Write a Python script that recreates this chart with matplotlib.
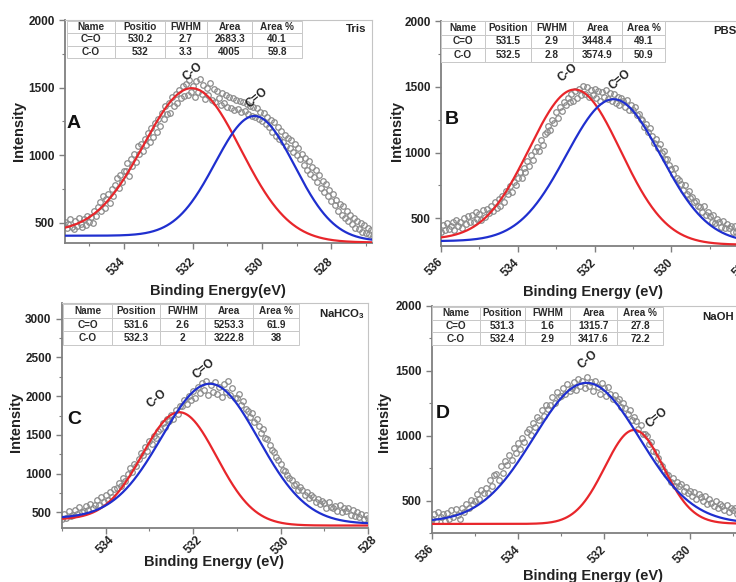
import math
import numpy as np
import matplotlib
matplotlib.use("Agg")
import matplotlib.pyplot as plt
from matplotlib.ticker import MultipleLocator

plt.rcParams['font.family'] = ['Liberation Sans', 'DejaVu Sans']
plt.rcParams['font.weight'] = 'bold'
plt.rcParams['mathtext.fontset'] = 'custom'
plt.rcParams['mathtext.rm'] = 'Liberation Sans:bold'
plt.rcParams['mathtext.bf'] = 'Liberation Sans:bold'

W, H = 736, 582
STEP = 0.05  # eV between recorded points

# ---------------- O 1s spectra (counts from the high-BE end) ----------------
a_start = 535.70
a_counts = [
    505, 462, 488, 530, 470, 452, 515, 478, 535, 490,
    468, 530, 485, 550, 505, 545, 495, 585, 550, 615,
    650, 585, 695, 610, 672, 712, 645, 748, 695, 780,
    830, 755, 850, 805, 880, 885, 940, 845, 970, 920,
    1010, 950, 1070, 1005, 1085, 1030, 1120, 1075, 1165, 1100,
    1200, 1135, 1240, 1170, 1270, 1215, 1310, 1265, 1360, 1305,
    1385, 1315, 1430, 1360, 1450, 1385, 1480, 1425, 1515, 1440,
    1530, 1445, 1555, 1470, 1510, 1430, 1545, 1465, 1560, 1450,
    1520, 1415, 1500, 1445, 1535, 1405, 1490, 1390, 1475, 1420,
    1370, 1460, 1385, 1445, 1355, 1430, 1350, 1420, 1335, 1410,
    1340, 1400, 1320, 1390, 1330, 1380, 1305, 1365, 1290, 1355,
    1280, 1350, 1265, 1320, 1250, 1310, 1230, 1285, 1205, 1260,
    1170, 1245, 1140, 1205, 1120, 1180, 1100, 1150, 1065, 1130,
    1050, 1110, 1020, 1080, 1000, 1050, 975, 1010, 930, 980,
    890, 960, 860, 915, 835, 890, 805, 850, 760, 810,
    730, 790, 695, 745, 660, 710, 630, 670, 590, 640,
    560, 625, 535, 590, 510, 555, 490, 535, 460, 515,
    455, 500, 435, 480, 425, 460, 415, 445, 405,
]

b_start = 536.00
b_counts = [
    400, 450, 410, 465, 420, 445, 475, 415, 490, 445,
    475, 430, 500, 455, 515, 475, 525, 470, 545, 495,
    535, 490, 560, 510, 575, 540, 595, 555, 625, 580,
    645, 595, 670, 625, 705, 685, 745, 700, 780, 755,
    805, 855, 810, 885, 855, 935, 900, 980, 945, 1015,
    1045, 1015, 1095, 1060, 1145, 1155, 1205, 1170, 1250, 1225,
    1305, 1265, 1345, 1315, 1385, 1360, 1415, 1385, 1445, 1395,
    1465, 1415, 1485, 1435, 1505, 1445, 1495, 1420, 1475, 1435,
    1485, 1415, 1465, 1395, 1460, 1420, 1475, 1405, 1455, 1390,
    1445, 1375, 1425, 1365, 1415, 1390, 1345, 1400, 1325, 1365,
    1325, 1345, 1285, 1295, 1255, 1245, 1195, 1220, 1155, 1185,
    1125, 1075, 1105, 1035, 1065, 995, 1015, 955, 955, 905,
    875, 835, 885, 805, 795, 765, 715, 755, 685, 705,
    655, 665, 625, 635, 595, 585, 545, 595, 525, 550,
    515, 475, 525, 465, 495, 470, 435, 480, 425, 455,
    425, 440, 400, 440, 395, 420, 385, 430, 375, 410,
    395,
]

c_start = 535.00
c_counts = [
    420, 485, 435, 515, 450, 470, 535, 485, 565, 505,
    520, 580, 530, 615, 555, 590, 655, 595, 705, 635,
    725, 655, 765, 695, 805, 815, 885, 845, 945, 905,
    1000, 1070, 1025, 1130, 1095, 1195, 1270, 1235, 1340, 1295,
    1415, 1385, 1490, 1455, 1550, 1575, 1650, 1605, 1710, 1675,
    1755, 1710, 1815, 1775, 1870, 1875, 1950, 1895, 2000, 1955,
    2060, 1980, 2120, 2035, 2165, 2075, 2195, 2010, 2145, 2050,
    2180, 2030, 2120, 1990, 2150, 2050, 2200, 2020, 2100, 1980,
    1970, 2030, 1890, 1940, 1840, 1810, 1730, 1780, 1670, 1710,
    1610, 1530, 1570, 1460, 1450, 1370, 1300, 1280, 1210, 1170,
    1130, 1050, 1040, 980, 950, 920, 860, 870, 790, 830,
    790, 730, 770, 690, 730, 700, 640, 680, 610, 650,
    620, 560, 640, 570, 560, 580, 520, 590, 510, 555,
    520, 560, 470, 530, 460, 500, 440, 485, 410, 465,
    430,
]

d_start = 536.00
d_counts = [
    360, 400, 345, 415, 370, 395, 340, 405, 360, 425,
    375, 435, 390, 355, 445, 415, 475, 440, 505, 475,
    495, 550, 515, 585, 555, 595, 555, 655, 615, 695,
    705, 655, 765, 715, 805, 775, 855, 815, 905, 865,
    945, 895, 985, 955, 1025, 1055, 1005, 1095, 1065, 1145,
    1125, 1195, 1155, 1235, 1205, 1235, 1295, 1255, 1335, 1295,
    1305, 1365, 1325, 1395, 1345, 1365, 1415, 1355, 1435, 1385,
    1425, 1365, 1455, 1385, 1415, 1345, 1425, 1375, 1325, 1405,
    1365, 1305, 1375, 1325, 1285, 1315, 1265, 1285, 1225, 1255,
    1215, 1165, 1195, 1125, 1145, 1115, 1055, 1085, 1015, 1015,
    995, 935, 955, 885, 875, 825, 785, 765, 725, 705,
    695, 645, 675, 615, 645, 615, 625, 575, 605, 555,
    575, 535, 565, 515, 550, 525, 495, 535, 475, 510,
    485, 455, 495, 445, 475, 460, 425, 465, 415, 445,
    425, 445, 400, 430, 390, 415, 385,
]

# ---------------- peak-fit tables ----------------
table_header_a = ["Name", "Positio", "FWHM", "Area", "Area %"]
table_header = ["Name", "Position", "FWHM", "Area", "Area %"]
peak_names = ["C=O", "C-O"]

a_pos, a_fwhm, a_area, a_pct = [530.2, 532], [2.7, 3.3], [2683.3, 4005], [40.1, 59.8]
b_pos, b_fwhm, b_area, b_pct = [531.5, 532.5], [2.9, 2.8], [3448.4, 3574.9], [49.1, 50.9]
c_pos, c_fwhm, c_area, c_pct = [531.6, 532.3], [2.6, 2], [5253.3, 3222.8], [61.9, 38]
d_pos, d_fwhm, d_area, d_pct = [531.3, 532.4], [1.6, 2.9], [1315.7, 3417.6], [27.8, 72.2]

# component heights above background and background levels (high-BE side, low-BE side)
a_height, a_bg = [906, 1103], [(404, 363), (430, 354)]
b_height, b_bg = [1085, 1159], [(327, 314), (340, 300)]
c_height, c_bg = [1770, 1421], [(425, 353), (410, 332)]
d_height, d_bg = [723, 1078], [(320, 322), (335, 324)]

RED = "#e8262b"
BLUE = "#1f2fcf"

panels = [
    dict(letter="A", sample="Tris", start=a_start, counts=a_counts,
         header=table_header_a, pos=a_pos, fwhm=a_fwhm, area=a_area, pct=a_pct,
         height=a_height, bg=a_bg, colors=[BLUE, RED],
         box=(65, 20, 372, 243), xlim=(535.70, 526.82), ylim=(350, 2000),
         yticks=[500, 1000, 1500, 2000], xlabel="Binding Energy(eV)",
         xlabel_xy=(218, 291), ylabel_xy=(19, 131), letter_xy=(67, 123),
         sample_xy=(366, 29), sample_ha="right",
         table_px=(67, 21, 302, 58), colw=[48, 50, 42, 45, 50],
         labels=[("C=O", 530.14, 1423), ("C-O", 532.01, 1615)],
         tick_ha="right", tick_pad=8.5),
    dict(letter="B", sample="PBS", start=b_start, counts=b_counts,
         header=table_header, pos=b_pos, fwhm=b_fwhm, area=b_area, pct=b_pct,
         height=b_height, bg=b_bg, colors=[BLUE, RED],
         box=(441, 21, 748, 246), xlim=(536, 528), ylim=(290, 2000),
         yticks=[500, 1000, 1500, 2000], xlabel="Binding Energy (eV)",
         xlabel_xy=(593, 292), ylabel_xy=(397, 131), letter_xy=(445, 120),
         sample_xy=(713, 31), sample_ha="left",
         table_px=(441, 21, 665, 62), colw=[44, 46, 42, 49, 43],
         labels=[("C=O", 531.34, 1550), ("C-O", 532.69, 1603)],
         tick_ha="right", tick_pad=6.5),
    dict(letter="C", sample=r"NaHCO$_3$", start=c_start, counts=c_counts,
         header=table_header, pos=c_pos, fwhm=c_fwhm, area=c_area, pct=c_pct,
         height=c_height, bg=c_bg, colors=[BLUE, RED],
         box=(62, 303, 368, 528), xlim=(535, 528), ylim=(300, 3200),
         yticks=[500, 1000, 1500, 2000, 2500, 3000], xlabel="Binding Energy (eV)",
         xlabel_xy=(214, 562), ylabel_xy=(16, 422), letter_xy=(67, 420),
         sample_xy=(365, 314), sample_ha="right",
         table_px=(63, 304, 299, 345), colw=[49, 48, 45, 48, 46],
         labels=[("C=O", 531.75, 2356), ("C-O", 532.84, 1969)],
         tick_ha="center", tick_pad=0.5),
    dict(letter="D", sample="NaOH", start=d_start, counts=d_counts,
         header=table_header, pos=d_pos, fwhm=d_fwhm, area=d_area, pct=d_pct,
         height=d_height, bg=d_bg, colors=[RED, BLUE],
         box=(432, 306, 745, 533), xlim=(536, 528.72), ylim=(250, 2000),
         yticks=[500, 1000, 1500, 2000], xlabel="Binding Energy (eV)",
         xlabel_xy=(593, 576), ylabel_xy=(384, 422), letter_xy=(436, 414),
         sample_xy=(702, 317), sample_ha="left",
         table_px=(432, 307, 663, 345), colw=[48, 45, 45, 47, 46],
         labels=[("C=O", 530.77, 1138), ("C-O", 532.37, 1589)],
         tick_ha="right", tick_pad=6.5),
]

FWHM_K = 4.0 * math.log(2.0)


def component(e, pos, fwhm, height, bg_hi, bg_lo):
    """Gaussian line on a Shirley-type step background."""
    sigma = fwhm / (2.0 * math.sqrt(2.0 * math.log(2.0)))
    peak = height * np.exp(-FWHM_K * (e - pos) ** 2 / fwhm ** 2)
    step = np.array([0.5 * (1.0 + math.erf(v / (sigma * math.sqrt(2.0)))) for v in (e - pos)])
    return bg_lo + (bg_hi - bg_lo) * step + peak


fig = plt.figure(figsize=(W / 100, H / 100), dpi=100)
fig.patch.set_facecolor("white")

TXT = "#222222"
AXC = "#7f7f7f"

for p in panels:
    l, t, r, b = p["box"]
    ax = fig.add_axes([l / W, 1 - b / H, (r - l) / W, (b - t) / H])

    counts = np.array(p["counts"], dtype=float)
    energy = p["start"] - STEP * np.arange(len(counts))
    ax.plot(energy, counts, linestyle="none", marker="o", ms=4.0,
            mfc="none", mec="#8c8c8c", mew=0.9, zorder=2)

    e_fine = np.linspace(p["xlim"][0], p["xlim"][1], 500)
    order = [i for i in range(2) if p["colors"][i] == RED] + \
            [i for i in range(2) if p["colors"][i] == BLUE]
    for i in order:
        y = component(e_fine, p["pos"][i], p["fwhm"][i], p["height"][i], *p["bg"][i])
        ax.plot(e_fine, y, color=p["colors"][i], lw=1.6, zorder=3)

    ax.set_xlim(*p["xlim"])
    ax.set_ylim(*p["ylim"])
    ax.xaxis.set_major_locator(MultipleLocator(2))
    ax.xaxis.set_minor_locator(MultipleLocator(1))
    ax.set_yticks(p["yticks"])
    ax.yaxis.set_minor_locator(MultipleLocator(250))
    ax.xaxis.set_major_formatter(plt.FuncFormatter(lambda v, _: f"{v:.0f}"))

    for side in ("left", "bottom"):
        ax.spines[side].set_color(AXC)
        ax.spines[side].set_linewidth(1.3)
    for side in ("top", "right"):
        ax.spines[side].set_color("#c4c4c4")
        ax.spines[side].set_linewidth(0.8)

    ax.tick_params(which="major", direction="out", length=4, width=1.0,
                   color=AXC, labelsize=8.5, labelcolor=TXT)
    ax.tick_params(which="minor", direction="out", length=2.2, width=0.8, color=AXC)
    ax.tick_params(axis="x", pad=p["tick_pad"])
    for lab in ax.get_xticklabels():
        lab.set_rotation(45)
        lab.set_fontweight("bold")
        if p["tick_ha"] == "right":
            lab.set_ha("right")
            lab.set_va("center")
            lab.set_rotation_mode("anchor")
        else:
            lab.set_ha("center")
            lab.set_va("top")
    for lab in ax.get_yticklabels():
        lab.set_fontweight("bold")

    # fit table
    tx0, ty0, tx1, ty1 = p["table_px"]
    bbox = [(tx0 - l) / (r - l), (b - ty1) / (b - t),
            (tx1 - tx0) / (r - l), (ty1 - ty0) / (b - t)]
    rows = [[peak_names[i], f"{p['pos'][i]:g}", f"{p['fwhm'][i]:g}",
             f"{p['area'][i]:g}", f"{p['pct'][i]:g}"] for i in range(2)]
    cw = np.array(p["colw"], dtype=float)
    tab = ax.table(cellText=rows, colLabels=p["header"], cellLoc="center",
                   colWidths=list(cw / cw.sum()), bbox=bbox, zorder=5)
    tab.auto_set_font_size(False)
    tab.set_fontsize(7.2)
    for cell in tab.get_celld().values():
        cell.set_edgecolor("#c8c8c8")
        cell.set_linewidth(0.7)
        cell.set_facecolor("white")
        cell.get_text().set_fontweight("bold")
        cell.get_text().set_color("#2a2a2a")

    # peak labels
    for name, ex, iy in p["labels"]:
        ax.text(ex, iy, name, rotation=40, ha="center", va="center",
                fontsize=8.5, fontweight="bold", color=TXT, zorder=6)

    # panel letter and sample name
    lx, ly = p["letter_xy"]
    fig.text(lx / W, 1 - ly / H, p["letter"], ha="left", va="center",
             fontsize=14, fontweight="bold", color="#111111")
    sx, sy = p["sample_xy"]
    fig.text(sx / W, 1 - sy / H, p["sample"], ha=p["sample_ha"], va="center",
             fontsize=8.2, fontweight="bold", color=TXT)

    # axis titles
    xx, xy = p["xlabel_xy"]
    fig.text(xx / W, 1 - xy / H, p["xlabel"], ha="center", va="center",
             fontsize=10.5, fontweight="bold", color=TXT)
    yx, yy = p["ylabel_xy"]
    fig.text(yx / W, 1 - yy / H, "Intensity", ha="center", va="center",
             rotation=90, fontsize=10.5, fontweight="bold", color=TXT)

fig.savefig("out.png", dpi=100, facecolor="white")
